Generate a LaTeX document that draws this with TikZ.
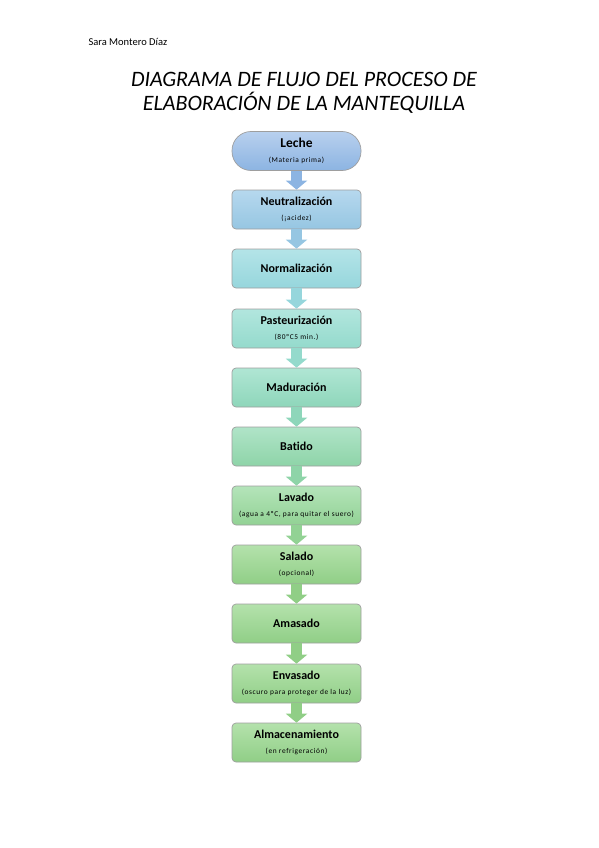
\documentclass[tikz,border=0pt]{standalone}
\usepackage{fontspec}
\setmainfont[Ligatures=NoCommon]{Carlito}
\newfontfamily\subfont[LetterSpace=8,Ligatures=NoCommon]{Carlito}
\usetikzlibrary{positioning, arrows.meta}

\definecolor{lecheT}{RGB}{184,208,238}
\definecolor{lecheB}{RGB}{140,180,226}
\definecolor{neutT}{RGB}{182,216,238}
\definecolor{neutB}{RGB}{150,198,226}
\definecolor{normT}{RGB}{180,228,232}
\definecolor{normB}{RGB}{150,214,220}
\definecolor{pastT}{RGB}{178,230,222}
\definecolor{pastB}{RGB}{148,218,204}
\definecolor{madT}{RGB}{176,230,212}
\definecolor{madB}{RGB}{142,214,186}
\definecolor{batT}{RGB}{176,228,200}
\definecolor{batB}{RGB}{142,212,168}
\definecolor{lavT}{RGB}{180,228,186}
\definecolor{lavB}{RGB}{146,210,148}
\definecolor{greenT}{RGB}{180,226,172}
\definecolor{greenB}{RGB}{144,206,134}

\newcommand{\steptitle}{\fontsize{12}{14}\selectfont\bfseries}
\newcommand{\stepnote}{\subfont\fontsize{7.4}{9}\selectfont}

\begin{document}
\begin{tikzpicture}[
    x=1pt, y=-1pt,
    box/.style={
        rectangle,
        rounded corners=4pt,
        draw=black!38,
        line width=0.7pt,
        align=center,
        minimum width=129pt,
        minimum height=39pt,
        inner sep=1pt
    },
    pill/.style={
        box,
        rounded corners=19pt
    },
    flow/.style={
        line width=11pt,
        -{Triangle[width=21pt,length=9pt]}
    }
]

\useasboundingbox (0,0) rectangle (599,848);

% Header and title
\node[anchor=base west, font=\fontsize{10.5}{12}\selectfont] (author) at (85,46) {Sara Montero Díaz};
\node[align=center, font=\fontsize{22}{24}\selectfont\itshape] (title) at (304,93)
    {DIAGRAMA DE FLUJO DEL PROCESO DE\\ELABORACIÓN DE LA MANTEQUILLA};

% Process steps
\node[pill, top color=lecheT, bottom color=lecheB] (leche) at (296.5,151)
    {{\fontsize{13.5}{15}\selectfont\bfseries Leche}\\[3pt]{\stepnote (Materia prima)}};
\node[box, top color=neutT, bottom color=neutB] (neut) at (296.5,209.5)
    {{\steptitle Neutralización}\\[3pt]{\stepnote (¡acidez)}};
\node[box, top color=normT, bottom color=normB] (norm) at (296.5,268.5)
    {\steptitle Normalización};
\node[box, top color=pastT, bottom color=pastB] (past) at (296.5,328.5)
    {{\steptitle Pasteurización}\\[3pt]{\stepnote (80ºC5 min.)}};
\node[box, top color=madT, bottom color=madB] (mad) at (296.5,387.5)
    {\steptitle Maduración};
\node[box, top color=batT, bottom color=batB] (bat) at (296.5,446.5)
    {\steptitle Batido};
\node[box, top color=lavT, bottom color=lavB] (lav) at (296.5,505.5)
    {{\steptitle Lavado}\\[3pt]{\stepnote (agua a 4ºC, para quitar el suero)}};
\node[box, top color=greenT, bottom color=greenB] (sal) at (296.5,564.5)
    {{\steptitle Salado}\\[3pt]{\stepnote (opcional)}};
\node[box, top color=greenT, bottom color=greenB] (amas) at (296.5,623.5)
    {\steptitle Amasado};
\node[box, top color=greenT, bottom color=greenB] (env) at (296.5,683.5)
    {{\steptitle Envasado}\\[3pt]{\stepnote (oscuro para proteger de la luz)}};
\node[box, top color=greenT, bottom color=greenB] (alm) at (296.5,742.5)
    {{\steptitle Almacenamiento}\\[3pt]{\stepnote (en refrigeración)}};

% Block arrows
\draw[flow, lecheB] (leche) -- (neut);
\draw[flow, neutB] (neut) -- (norm);
\draw[flow, normB] (norm) -- (past);
\draw[flow, pastB] (past) -- (mad);
\draw[flow, madB] (mad) -- (bat);
\draw[flow, batB] (bat) -- (lav);
\draw[flow, lavB] (lav) -- (sal);
\draw[flow, greenB] (sal) -- (amas);
\draw[flow, greenB] (amas) -- (env);
\draw[flow, greenB] (env) -- (alm);

\end{tikzpicture}
\end{document}
